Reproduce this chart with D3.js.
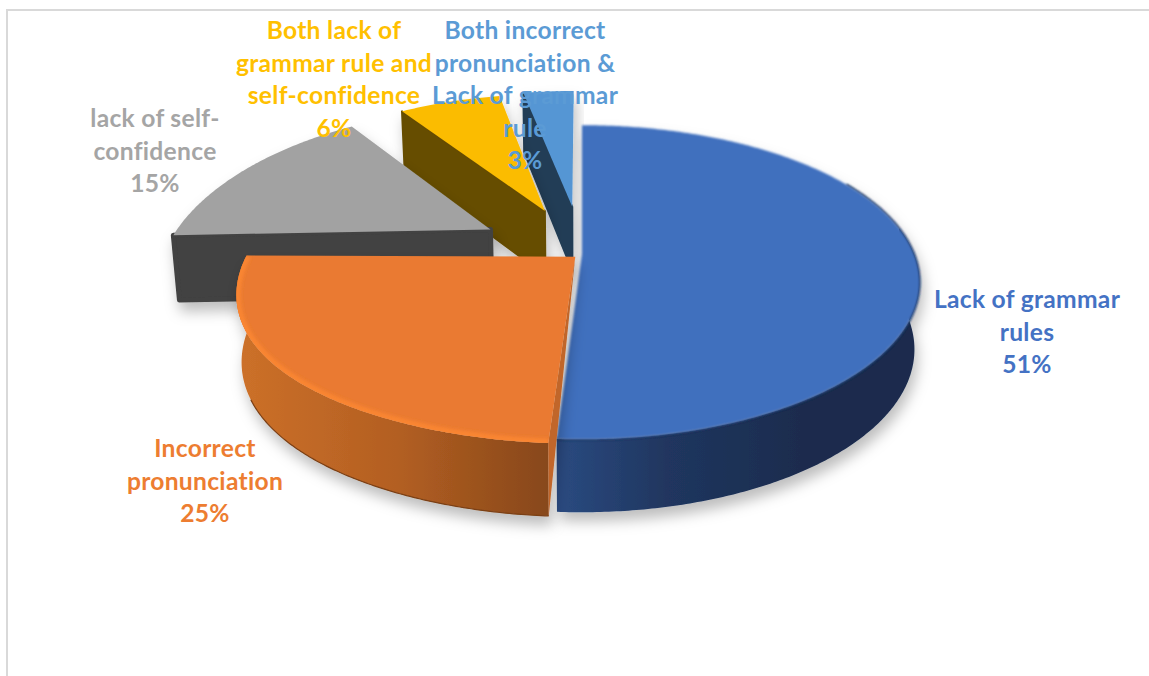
<!DOCTYPE html>
<html>
<head>
<meta charset="utf-8">
<script src="https://cdn.jsdelivr.net/npm/d3@7"></script>
<style>
  html, body { margin: 0; padding: 0; background: #fff; overflow: hidden; }
  svg { display: block; }
  text { font-family: Lato, "Open Sans", sans-serif; font-weight: 700; font-size: 24.6px; letter-spacing: 0.3px; text-anchor: middle; }
</style>
</head>
<body>
<div id="chart"></div>
<script>
// Share of speaking difficulties, drawn as an exploded perspective pie.
const categories = [
  "Lack of grammar rules",
  "Incorrect pronunciation",
  "lack of self-confidence",
  "Both lack of grammar rule and self-confidence",
  "Both incorrect pronunciation & Lack of grammar rule"
];
const shares = [51, 25, 15, 6, 3];
const labelLines = [
  ["Lack of grammar", "rules", "51%"],
  ["Incorrect", "pronunciation", "25%"],
  ["lack of self-", "confidence", "15%"],
  ["Both lack of", "grammar rule and", "self-confidence", "6%"],
  ["Both incorrect", "pronunciation &", "Lack of grammar", "rule", "3%"]
];

// Appearance of each slice, in the same order as the categories.
const topColors = ["#4170be", "#ea7a30", "#a2a2a2", "#fbbc00", "#5596d4"];
const cutColors = ["#1a2c4e", "#c1662a", "#424242", "#664d00", "#223e56"];
const labelColors = ["#4472c4", "#ed7d31", "#a5a5a5", "#ffc000", "#5b9bd5"];
const explodeBy = [0, 0.027, 0.33, 0.32, 0.33];
const labelCentres = [1027, 205, 155, 334, 525];
const labelFirstBaselines = [308, 457, 127, 39, 39];
const lineStep = 32.5;

const width = 1149, height = 676;
const originX = 582, originY = 254, radiusX = 332, radiusY = 152;
const perspective = 0.18, depth = 66, baseLean = 0.985, leftDroop = 8;

const xScale = d3.scaleLinear().domain([-1, 1]).range([originX - radiusX, originX + radiusX]);
const yScale = d3.scaleLinear().domain([-1, 1]).range([originY + radiusY, originY - radiusY]);

// Disc coordinates (right, away from viewer) to screen, on the top face or the base.
// The far left of the disc sags slightly, as the camera is rolled a little.
function project(x, y, lowered) {
  const w = 1 / (1 + perspective * y);
  const sx = xScale(x * w);
  const sy = yScale(y * w) + leftDroop * Math.pow(Math.max(0, -x * w), 3);
  if (!lowered) return [sx, sy];
  return [originX + (sx - originX) * baseLean, sy + depth * Math.sqrt(w)];
}

const arcs = d3.pie().sort(null).value(d => d).startAngle(0).endAngle(2 * Math.PI)(shares);
const line = d3.line();

function sliceGeometry(arc, i) {
  const mid = (arc.startAngle + arc.endAngle) / 2;
  const ex = Math.sin(mid) * explodeBy[i], ey = Math.cos(mid) * explodeBy[i];
  const rimAt = (a, lowered) => project(ex + Math.sin(a), ey + Math.cos(a), lowered);
  const apex = lowered => project(ex, ey, lowered);
  const sweep = (a0, a1, lowered) => {
    const n = Math.max(2, Math.ceil((a1 - a0) / 0.01));
    return d3.range(n + 1).map(k => rimAt(a0 + (a1 - a0) * k / n, lowered));
  };
  return { arc, rimAt, apex, sweep };
}

const svg = d3.select("#chart").append("svg").attr("width", width).attr("height", height);
const defs = svg.append("defs");

const shadow = defs.append("filter").attr("id", "sliceShadow")
  .attr("x", "-20%").attr("y", "-20%").attr("width", "140%").attr("height", "150%");
shadow.append("feDropShadow").attr("dx", 3).attr("dy", 9).attr("stdDeviation", 7)
  .attr("flood-color", "#000").attr("flood-opacity", 0.26);
defs.append("filter").attr("id", "softEdge").attr("x", "-5%").attr("y", "-5%").attr("width", "110%").attr("height", "110%")
  .append("feGaussianBlur").attr("stdDeviation", 1);
defs.append("filter").attr("id", "softBand").attr("x", "-5%").attr("y", "-5%").attr("width", "110%").attr("height", "110%")
  .append("feGaussianBlur").attr("stdDeviation", 1.6);

function wallGradient(id, x1, x2, stops) {
  const g = defs.append("linearGradient").attr("id", id).attr("gradientUnits", "userSpaceOnUse")
    .attr("x1", x1).attr("x2", x2).attr("y1", 0).attr("y2", 0);
  stops.forEach(([o, c]) => g.append("stop").attr("offset", o).attr("stop-color", c));
}
wallGradient("blueWall", 558, 800, [[0, "#2a4a80"], [0.45, "#20365f"], [1, "#1a2c4e"]]);
wallGradient("orangeWall", 240, 553, [[0, "#cc7029"], [0.5, "#b35f22"], [1, "#86471a"]]);

// Frame lines along the top and left of the chart area.
svg.append("path").attr("d", line([[7, height + 4], [7, 10], [width + 4, 10]]))
  .attr("fill", "none").attr("stroke", "#d9d9d9").attr("stroke-width", 2);

const geom = arcs.map(sliceGeometry);
const facePoints = g => [g.apex(false), ...g.sweep(g.arc.startAngle, g.arc.endAngle, false)];
const FRONT_FROM = 80 * Math.PI / 180, FRONT_TO = 280 * Math.PI / 180;

function drawCutWall(sel, g, angle, color, corner) {
  sel.append("path")
    .attr("d", line([g.apex(false), g.rimAt(angle, false), g.rimAt(angle, true), g.apex(true)]) + "Z")
    .attr("fill", color).attr("stroke", color).attr("stroke-width", corner).attr("stroke-linejoin", "round");
}

function drawRimWall(sel, g, fill) {
  const a0 = Math.max(g.arc.startAngle, FRONT_FROM), a1 = Math.min(g.arc.endAngle, FRONT_TO);
  const upper = g.sweep(a0, a1, false), lower = g.sweep(a0, a1, true).reverse();
  sel.append("path").attr("d", line(upper.concat(lower)) + "Z").attr("fill", fill);
}

function drawTop(sel, i, g, soft) {
  const p = sel.append("path").attr("d", line(facePoints(g)) + "Z").attr("fill", topColors[i]);
  if (soft) p.attr("filter", "url(#softEdge)");
}

// Painted from the back of the pie to the front.
[4, 3, 2].forEach(i => {
  const g = geom[i];
  const s = svg.append("g").attr("filter", "url(#sliceShadow)").attr("class", "slice").datum(categories[i]);
  drawCutWall(s, g, g.arc.startAngle, cutColors[i], i === 2 ? 5 : 2);
  drawTop(s, i, g, false);
});

// Largest slice, its rim darkened where the top meets the side wall.
{
  const g = geom[0];
  const s = svg.append("g").attr("filter", "url(#sliceShadow)").attr("class", "slice").datum(categories[0]);
  drawRimWall(s, g, "url(#blueWall)");
  s.append("path").attr("d", line(g.sweep(1.05, g.arc.endAngle, false)))
    .attr("fill", "none").attr("stroke", "#1a2c4e").attr("stroke-width", 2).attr("filter", "url(#softEdge)");
  drawTop(s, 0, g, true);
}

// Second slice with a lit edge along its rim and a narrow cut face.
{
  const g = geom[1];
  const s = svg.append("g").attr("filter", "url(#sliceShadow)").attr("class", "slice").datum(categories[1]);
  drawRimWall(s, g, "url(#orangeWall)");
  s.append("path")
    .attr("d", line([g.apex(false), g.rimAt(g.arc.startAngle, false), g.rimAt(g.arc.startAngle, true)]) + "Z")
    .attr("fill", cutColors[1]);
  drawTop(s, 1, g, false);
  defs.append("clipPath").attr("id", "orangeFace").append("path").attr("d", line(facePoints(g)) + "Z");
  s.append("g").attr("clip-path", "url(#orangeFace)").append("path")
    .attr("d", line(g.sweep(g.arc.startAngle, g.arc.endAngle, false)))
    .attr("fill", "none").attr("stroke", "#fb8632").attr("stroke-width", 9).attr("stroke-opacity", 0.9).attr("filter", "url(#softBand)");
  s.append("path").attr("d", line(g.sweep(g.arc.startAngle, 4.3, true)))
    .attr("fill", "none").attr("stroke", "#7a3f14").attr("stroke-width", 1.2);
}

// Multi-line data labels.
labelLines.forEach((lines, i) => {
  const t = svg.append("text").attr("fill", labelColors[i]);
  lines.forEach((txt, k) => {
    t.append("tspan").attr("x", labelCentres[i]).attr("y", labelFirstBaselines[i] + k * lineStep).text(txt);
  });
});
</script>
</body>
</html>
